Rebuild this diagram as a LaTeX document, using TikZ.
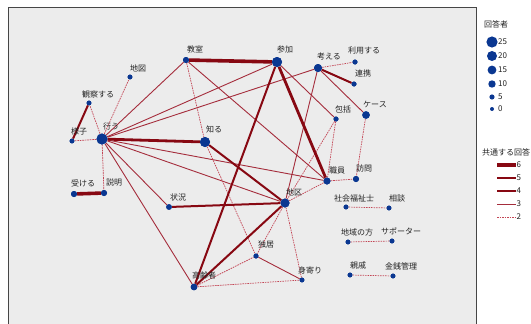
\documentclass[tikz,border=0pt]{standalone}
\usepackage{fontspec}
\setmainfont{Noto Sans CJK JP}
\definecolor{nb}{RGB}{10,55,145}
\definecolor{er}{RGB}{135,8,18}
\definecolor{ethin}{RGB}{165,45,60}
\definecolor{edash}{RGB}{195,70,85}
\definecolor{panel}{RGB}{236,236,236}
\definecolor{border}{RGB}{70,70,70}
\definecolor{txt}{RGB}{35,35,35}
\tikzset{
  dot/.style={circle,fill=nb,draw=none,inner sep=0pt,minimum size=#1},
  lbl/.style={font=\fontsize{8}{9}\selectfont,text=txt,inner sep=0pt},
  e6/.style={draw=er,line width=3.6pt},
  e5/.style={draw=er,line width=2.8pt},
  e4/.style={draw=er,line width=2.0pt},
  e3/.style={draw=ethin,line width=0.9pt},
  e2/.style={draw=edash,line width=0.7pt,dash pattern=on 1.6pt off 0.9pt},
}
\begin{document}
\begin{tikzpicture}[x=1pt,y=-1pt]
\useasboundingbox (0,0) rectangle (531,324);
\clip (0,0) rectangle (531,324);
\fill[white] (0,0) rectangle (531,324);
\draw[fill=panel,draw=border,line width=0.9pt] (8,7) rectangle (476,332);

% nodes (positions)
\node[dot=11pt] (okonau) at (102,139) {};
\node[dot=10pt] (sanka) at (277,62) {};
\node[dot=10pt] (shiru) at (205,142) {};
\node[dot=9pt] (chiku) at (285,203) {};
\node[dot=8pt] (kangaeru) at (318,68) {};
\node[dot=7.5pt] (case) at (366,115) {};
\node[dot=7pt] (shokuin) at (327,181) {};
\node[dot=6.6pt] (koreisha) at (194,287) {};
\node[dot=6pt] (kyoshitsu) at (186,60) {};
\node[dot=6pt] (setsumei) at (104,193) {};
\node[dot=6pt] (ukeru) at (74,194) {};
\node[dot=5.6pt] (jokyo) at (169,207) {};
\node[dot=6pt] (homon) at (356,179) {};
\node[dot=4.8pt] (chizu) at (130,77) {};
\node[dot=4.8pt] (kansatsu) at (89,103) {};
\node[dot=4.8pt] (yosu) at (72,141) {};
\node[dot=5pt] (riyo) at (355,62) {};
\node[dot=5pt] (renkei) at (354,84) {};
\node[dot=5pt] (hokatsu) at (336,119) {};
\node[dot=5pt] (dokkyo) at (256,256) {};
\node[dot=4.8pt] (miyori) at (302,280) {};
\node[dot=4.8pt] (shakai) at (346,207) {};
\node[dot=4.8pt] (sodan) at (389,208) {};
\node[dot=4.8pt] (chiiki) at (348,242) {};
\node[dot=4.8pt] (supporter) at (392,241) {};
\node[dot=4.8pt] (shinseki) at (350,275) {};
\node[dot=4.8pt] (kinsen) at (393,276) {};

% edges
\draw[e2] (okonau) -- (yosu);
\draw[e2] (okonau) -- (kansatsu);
\draw[e2] (okonau) -- (chizu);
\draw[e2] (okonau) -- (setsumei);
\draw[e3] (okonau) -- (kyoshitsu);
\draw[e3] (okonau) -- (sanka);
\draw[e3] (okonau) -- (kangaeru);
\draw[e3] (okonau) -- (chiku);
\draw[e3] (okonau) -- (shokuin);
\draw[e3] (okonau) -- (jokyo);
\draw[e3] (okonau) -- (koreisha);
\draw[e3] (kyoshitsu) -- (shokuin);
\draw[e2] (kyoshitsu) -- (shiru);
\draw[e3] (sanka) -- (hokatsu);
\draw[e2] (kangaeru) -- (riyo);
\draw[e3] (kangaeru) -- (case);
\draw[e3] (kangaeru) -- (chiku);
\draw[e2] (hokatsu) -- (shokuin);
\draw[e2] (hokatsu) -- (chiku);
\draw[e2] (case) -- (homon);
\draw[e2] (shokuin) -- (homon);
\draw[e2] (shokuin) -- (chiku);
\draw[e2] (shiru) -- (dokkyo);
\draw[e2] (chiku) -- (dokkyo);
\draw[e2] (chiku) -- (miyori);
\draw[e2] (koreisha) -- (miyori);
\draw[e2] (koreisha) -- (dokkyo);
\draw[e3] (dokkyo) -- (miyori);
\draw[e2] (shakai) -- (sodan);
\draw[e2] (chiiki) -- (supporter);
\draw[e2] (shinseki) -- (kinsen);
\draw[e4] (kansatsu) -- (yosu);
\draw[e4] (kangaeru) -- (renkei);
\draw[e4] (jokyo) -- (chiku);
\draw[e4] (chiku) -- (koreisha);
\draw[e4] (sanka) -- (koreisha);
\draw[e4] (shiru) -- (chiku);
\draw[e5] (okonau) -- (shiru);
\draw[e5] (sanka) -- (shokuin);
\draw[e6] (kyoshitsu) -- (sanka);
\draw[e6] (ukeru) -- (setsumei);

% redraw nodes on top
\foreach \n/\s in {okonau/11pt,sanka/10pt,shiru/10pt,chiku/9pt,kangaeru/8pt,case/7.5pt,shokuin/7pt,koreisha/6.6pt,kyoshitsu/6pt,setsumei/6pt,ukeru/6pt,jokyo/5.6pt,homon/6pt,chizu/4.8pt,kansatsu/4.8pt,yosu/4.8pt,riyo/5pt,renkei/5pt,hokatsu/5pt,dokkyo/5pt,miyori/4.8pt,shakai/4.8pt,sodan/4.8pt,chiiki/4.8pt,supporter/4.8pt,shinseki/4.8pt,kinsen/4.8pt}
  \fill[nb] (\n.center) circle[radius=\s/2];

% labels
\node[lbl] (t-kyoshitsu) at (195,49) {教室};
\node[lbl] (t-chizu) at (138,68) {地図};
\node[lbl] (t-kansatsu) at (98,94) {観察する};
\node[lbl] (t-yosu) at (79,131) {様子};
\node[lbl] (t-okonau) at (111,126) {行う};
\node[lbl] (t-shiru) at (214,129) {知る};
\node[lbl] (t-sanka) at (285,49) {参加};
\node[lbl] (t-kangaeru) at (329,56) {考える};
\node[lbl] (t-riyo) at (364,51) {利用する};
\node[lbl] (t-renkei) at (363,73) {連携};
\node[lbl] (t-hokatsu) at (343,109) {包括};
\node[lbl] (t-case) at (375,104) {ケース};
\node[lbl] (t-ukeru) at (83,183) {受ける};
\node[lbl] (t-setsumei) at (114,182) {説明};
\node[lbl] (t-jokyo) at (178,197) {状況};
\node[lbl] (t-koreisha) at (204,275) {高齢者};
\node[lbl] (t-dokkyo) at (266,244) {独居};
\node[lbl] (t-miyori) at (310,270) {身寄り};
\node[lbl] (t-chiku) at (294,192) {地区};
\node[lbl] (t-shokuin) at (337,170) {職員};
\node[lbl] (t-homon) at (364,168) {訪問};
\node[lbl] (t-shakai) at (354,198) {社会福祉士};
\node[lbl] (t-sodan) at (397,198) {相談};
\node[lbl] (t-chiiki) at (357,232) {地域の方};
\node[lbl] (t-supporter) at (401,231) {サポーター};
\node[lbl] (t-shinseki) at (358,265) {親戚};
\node[lbl] (t-kinsen) at (401,266) {金銭管理};

% legend: respondents
\node[lbl,anchor=west] (lg-title) at (484,24) {回答者};
\foreach \v/\yy/\r in {25/42/5.6,20/56/5.0,15/70/4.4,10/84/3.7,5/97/2.6,0/109/2.0}{
  \node[dot=2*\r pt] (lgc\v) at (492,\yy) {};
  \node[lbl,anchor=west] (lgt\v) at (498,\yy) {\v};
}
% legend: shared answers
\node[lbl,anchor=west] (lg-title2) at (482,152) {共通する回答};
\foreach \v/\yy/\st in {6/165/e6,5/178/e5,4/191/e4,3/204/e3,2/217/e2}{
  \coordinate (lga\v) at (497,\yy);
  \coordinate (lgb\v) at (516,\yy);
  \draw[\st] (lga\v) -- (lgb\v);
  \node[lbl,anchor=west] (lgl\v) at (516.5,\yy) {\v};
}
\end{tikzpicture}
\end{document}
